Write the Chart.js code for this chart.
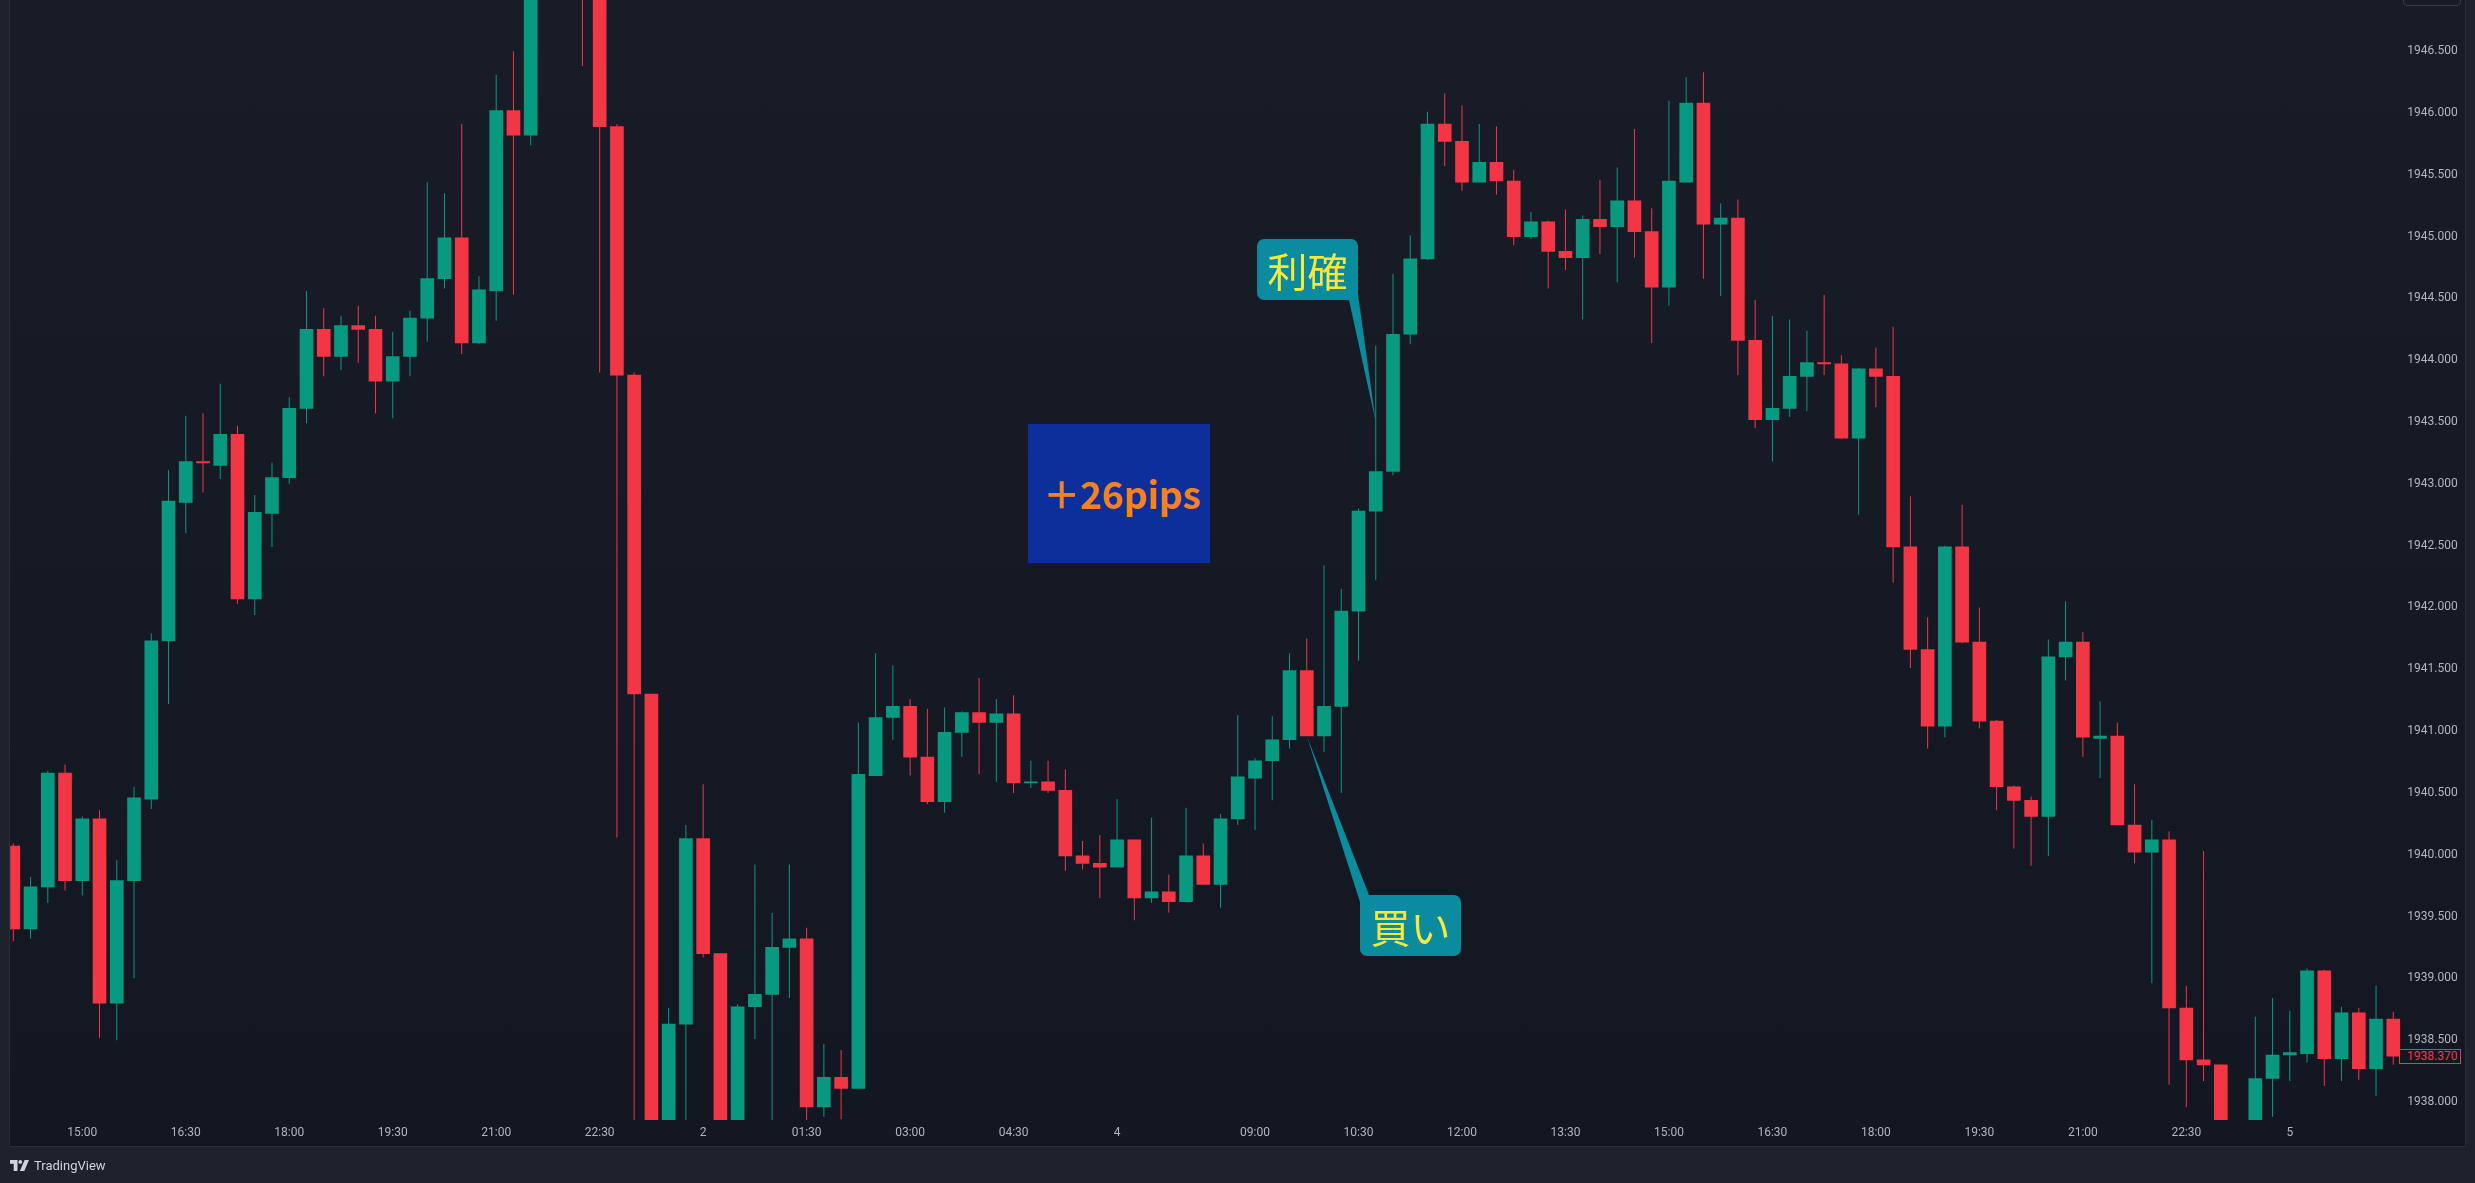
<!DOCTYPE html>
<html>
<head>
<meta charset="utf-8">
<script src="https://cdn.jsdelivr.net/npm/chart.js@4.4.1/dist/chart.umd.min.js"></script>
<style>
html,body{margin:0;padding:0;width:2475px;height:1183px;overflow:hidden;background:#1e222d;}
#panel{position:absolute;left:9px;top:-1px;width:2457px;height:1148px;box-sizing:border-box;border:1px solid #2a2e39;background:linear-gradient(180deg,#181c27 0%,#131722 100%);}
#c{position:absolute;left:0;top:0;}
.callout{position:absolute;background:#0a8b9e;border-radius:7px;color:#f7e83a;font-family:"Noto Sans CJK JP";font-size:40px;display:flex;align-items:center;justify-content:center;line-height:1;}
#pips{position:absolute;left:1028px;top:424px;width:182px;height:139px;background:#0d2f9b;color:#f5821f;font-family:"Noto Sans CJK JP";font-weight:bold;font-size:37px;display:flex;align-items:center;padding-left:15px;box-sizing:border-box;line-height:1;white-space:nowrap;}
#lastPrice{position:absolute;left:2399px;width:62px;height:15px;box-sizing:border-box;border:1px solid #f23645;background:#131722;color:#f23645;font:12px Roboto;line-height:13px;padding-left:7px;}
#topbtn{position:absolute;left:2403px;top:-20px;width:58px;height:26px;box-sizing:border-box;border:1px solid #363a45;border-radius:4px;}
#footer{position:absolute;left:10px;top:1157px;height:16px;display:flex;align-items:center;gap:4px;color:#d1d4dc;font:13px Roboto;}
</style>
</head>
<body>
<div id="panel"></div>
<canvas id="c" width="2475" height="1183"></canvas>
<div id="pips"></div>
<div id="tpBox" class="callout" style="left:1257px;top:239px;width:101px;height:61px;"></div>
<div id="buyBox" class="callout" style="left:1360px;top:895px;width:101px;height:61px;"></div>
<div id="lastPrice"></div>
<div id="topbtn"></div>
<div id="footer"><svg width="20" height="11" viewBox="0 0 20 11"><path d="M0 0h7.5v11h-3.8V3.7H0z" fill="#d1d4dc"/><circle cx="10.3" cy="1.9" r="1.9" fill="#d1d4dc"/><path d="M14.6 0H19L14.3 11H9.9z" fill="#d1d4dc"/></svg><span>TradingView</span></div>
<script>
// ---------- DATA ----------
// trading sessions (15-minute candles): date, first bar time, number of bars
const sessions = [["09/01","14:00",40],["09/02","00:00",24],["09/04","07:00",68],["09/05","00:00",7]];

const opens = [
1940.07,1939.40,1939.74,1940.66,1939.79,1940.29,1938.80,1939.79,1940.45,1941.73,
1942.85,1943.18,1943.15,1943.40,1942.07,1942.76,1943.05,1943.61,1944.25,1944.03,
1944.28,1944.25,1943.83,1944.03,1944.34,1944.66,1944.99,1944.14,1944.56,1946.02,
1945.82,1948.60,1951.50,1948.50,1947.20,1945.89,1943.88,1941.30,1937.50,1938.63,
1940.13,1939.20,1937.75,1938.77,1938.87,1939.25,1939.32,1937.96,1938.20,1938.11,
1940.64,1941.11,1941.20,1940.79,1940.43,1940.99,1941.15,1941.07,1941.14,1940.58,
1940.59,1940.52,1939.99,1939.93,1939.90,1940.12,1939.65,1939.70,1939.62,1939.99,
1939.76,1940.29,1940.62,1940.76,1940.93,1941.49,1940.96,1941.20,1941.97,1942.78,
1943.10,1944.21,1944.82,1945.91,1945.77,1945.44,1945.60,1945.45,1945.00,1945.12,
1944.88,1944.83,1945.14,1945.08,1945.29,1945.04,1944.59,1945.44,1946.08,1945.10,
1945.15,1944.16,1943.52,1943.61,1943.87,1943.98,1943.97,1943.37,1943.93,1943.87,
1942.49,1941.66,1941.04,1942.49,1941.72,1941.08,1940.55,1940.44,1940.31,1941.60,
1941.72,1940.94,1940.96,1940.24,1940.02,1940.12,1938.76,1938.34,1938.30,1937.75,
1937.55,1938.19,1938.38,1938.39,1939.06,1938.35,1938.72,1938.27,1938.67
];
const highs = [
1940.09,1939.82,1940.68,1940.73,1940.31,1940.36,1939.96,1940.55,1941.79,1943.11,
1943.55,1943.57,1943.81,1943.47,1942.91,1943.17,1943.70,1944.56,1944.42,1944.36,
1944.44,1944.36,1944.23,1944.40,1945.44,1945.35,1945.91,1944.68,1946.31,1946.50,
1949.20,1953.00,1952.40,1949.00,1947.40,1945.91,1943.90,1941.30,1938.76,1940.24,
1940.57,1939.20,1938.79,1939.92,1939.53,1939.92,1939.41,1938.47,1938.42,1941.07,
1941.63,1941.53,1941.26,1941.18,1941.19,1941.16,1941.43,1941.26,1941.29,1940.76,
1940.76,1940.69,1940.11,1940.16,1940.45,1940.12,1940.30,1939.84,1940.38,1940.09,
1940.33,1941.13,1940.78,1941.12,1941.63,1941.75,1942.34,1942.15,1942.80,1944.12,
1944.70,1945.01,1946.01,1946.16,1946.06,1945.91,1945.89,1945.54,1945.20,1945.13,
1945.22,1945.17,1945.46,1945.56,1945.87,1945.23,1946.10,1946.29,1946.33,1945.27,
1945.30,1944.49,1944.36,1944.33,1944.24,1944.53,1944.04,1943.94,1944.10,1944.27,
1942.90,1941.92,1942.50,1942.83,1942.00,1941.09,1940.56,1940.47,1941.74,1942.05,
1941.80,1941.24,1941.07,1940.57,1940.28,1940.19,1938.94,1940.03,1938.30,1937.80,
1938.69,1938.84,1938.74,1939.08,1939.07,1938.77,1938.76,1938.94,1938.73
];
const lows = [
1939.30,1939.32,1939.61,1939.71,1939.67,1938.52,1938.50,1939.00,1940.37,1941.22,
1942.60,1942.93,1943.04,1942.03,1941.94,1942.49,1943.00,1943.49,1943.87,1943.92,
1943.98,1943.57,1943.53,1943.87,1944.15,1944.58,1944.05,1944.13,1944.32,1944.53,
1945.74,1947.30,1948.00,1946.38,1943.90,1940.14,1937.60,1937.20,1937.10,1937.80,
1939.17,1937.60,1937.60,1938.51,1937.85,1938.84,1937.82,1937.88,1937.86,1938.11,
1940.64,1940.93,1940.64,1940.41,1940.34,1940.79,1940.65,1940.59,1940.50,1940.54,
1940.50,1939.87,1939.88,1939.65,1939.90,1939.47,1939.61,1939.53,1939.62,1939.76,
1939.57,1940.24,1940.20,1940.44,1940.86,1940.96,1940.83,1940.50,1941.57,1942.22,
1943.07,1944.13,1944.81,1945.57,1945.37,1945.44,1945.34,1944.93,1944.98,1944.58,
1944.73,1944.33,1944.86,1944.63,1944.83,1944.14,1944.44,1945.44,1944.66,1944.52,
1943.88,1943.45,1943.18,1943.54,1943.59,1943.88,1943.36,1942.75,1943.62,1942.20,
1941.51,1940.86,1940.95,1941.71,1941.02,1940.36,1940.05,1939.91,1939.99,1941.41,
1940.79,1940.62,1940.24,1939.93,1938.96,1938.14,1937.96,1938.17,1937.60,1937.30,
1937.40,1937.88,1938.17,1938.32,1938.13,1938.17,1938.18,1938.05,1938.30
];
const closes = [
1939.40,1939.74,1940.66,1939.79,1940.29,1938.80,1939.79,1940.46,1941.73,1942.86,
1943.18,1943.17,1943.40,1942.07,1942.77,1943.05,1943.61,1944.25,1944.03,1944.28,
1944.25,1943.83,1944.03,1944.34,1944.66,1944.99,1944.14,1944.57,1946.02,1945.82,
1948.60,1951.50,1948.50,1947.20,1945.89,1943.88,1941.30,1937.40,1938.63,1940.13,
1939.20,1937.70,1938.77,1938.87,1939.25,1939.32,1937.96,1938.20,1938.11,1940.65,
1941.11,1941.20,1940.79,1940.43,1940.99,1941.15,1941.07,1941.14,1940.58,1940.59,
1940.52,1939.99,1939.93,1939.90,1940.12,1939.65,1939.70,1939.62,1939.99,1939.76,
1940.29,1940.63,1940.76,1940.93,1941.49,1940.96,1941.20,1941.97,1942.78,1943.10,
1944.21,1944.82,1945.91,1945.77,1945.44,1945.60,1945.45,1945.00,1945.12,1944.88,
1944.83,1945.14,1945.08,1945.29,1945.04,1944.59,1945.45,1946.08,1945.10,1945.15,
1944.16,1943.52,1943.61,1943.87,1943.98,1943.97,1943.37,1943.93,1943.87,1942.49,
1941.66,1941.04,1942.49,1941.72,1941.08,1940.55,1940.44,1940.31,1941.60,1941.72,
1940.95,1940.96,1940.24,1940.02,1940.12,1938.76,1938.34,1938.30,1937.75,1937.50,
1938.19,1938.38,1938.40,1939.06,1938.35,1938.72,1938.27,1938.67,1938.37
];

const tickAt = ["09/01 15:00","09/01 16:30","09/01 18:00","09/01 19:30","09/01 21:00","09/01 22:30",
  "09/02 00:00","09/02 01:30","09/02 03:00","09/02 04:30","09/04 07:00","09/04 09:00","09/04 10:30",
  "09/04 12:00","09/04 13:30","09/04 15:00","09/04 16:30","09/04 18:00","09/04 19:30","09/04 21:00",
  "09/04 22:30","09/05 00:00"];
const tickText = ["15:00","16:30","18:00","19:30","21:00","22:30","2","01:30","03:00","04:30","4",
  "09:00","10:30","12:00","13:30","15:00","16:30","18:00","19:30","21:00","22:30","5"];
const priceTicks = [1938.0,1938.5,1939.0,1939.5,1940.0,1940.5,1941.0,1941.5,1942.0,1942.5,
  1943.0,1943.5,1944.0,1944.5,1945.0,1945.5,1946.0,1946.5];

// trade annotations
const tradeText = ["買い","利確"];
const tradeBar = ["09/04 09:45","09/04 10:45"];
const tradePrice = [1940.96, 1943.50];
const resultText = "＋26pips";

// ---------- BUILD ----------
const categories = [];
sessions.forEach(([d, t, n]) => {
  let [h, m] = t.split(":").map(Number);
  for (let k = 0; k < n; k++) {
    categories.push(d + " " + String(h).padStart(2,"0") + ":" + String(m).padStart(2,"0"));
    m += 15; if (m === 60) { m = 0; h += 1; }
  }
});

const UP = "#089981", DOWN = "#f23645";
const colors = closes.map((c, i) => c >= opens[i] ? UP : DOWN);
const yMin = 1937.854, yMax = 1946.914;
const axisColor = "#b2b5be";
const calloutColor = "#0a8b9e";
const clipArea = {left: -5.5, top: 0, right: 0, bottom: 0};

document.getElementById("pips").textContent = resultText;
document.getElementById("buyBox").textContent = tradeText[0];
document.getElementById("tpBox").textContent = tradeText[1];

// tail base points (inside the callout boxes), in page pixels
const tailBases = [[[1362.6, 910], [1372.9, 905]], [[1346.8, 290], [1356, 280]]];

const overlayPlugin = {
  id: "overlay",
  afterDatasetsDraw(chart) {
    const {ctx, scales: {x, y}} = chart;
    ctx.save();
    ctx.fillStyle = calloutColor;
    tradeBar.forEach((cat, k) => {
      const px = x.getPixelForValue(categories.indexOf(cat));
      const py = y.getPixelForValue(tradePrice[k]);
      const [a, b] = tailBases[k];
      ctx.beginPath();
      ctx.moveTo(px, py);
      ctx.lineTo(a[0], a[1]);
      ctx.lineTo(b[0], b[1]);
      ctx.closePath();
      ctx.fill();
    });
    ctx.restore();
  },
  afterDraw(chart) {
    const last = closes[closes.length - 1];
    const el = document.getElementById("lastPrice");
    el.textContent = last.toFixed(3);
    el.style.top = (chart.scales.y.getPixelForValue(last) - 7) + "px";
  }
};

Chart.defaults.font.family = "Roboto";

new Chart(document.getElementById("c"), {
  type: "bar",
  data: {
    labels: categories,
    datasets: [
      {
        label: "wick",
        data: lows.map((l, i) => [l, highs[i]]),
        backgroundColor: colors,
        barThickness: 1,
        inflateAmount: 0,
        grouped: false,
        order: 2,
        clip: clipArea
      },
      {
        label: "body",
        data: opens.map((o, i) => [o, closes[i]]),
        backgroundColor: colors,
        barThickness: 13,
        minBarLength: 1,
        grouped: false,
        order: 1,
        clip: clipArea
      }
    ]
  },
  options: {
    responsive: false,
    animation: false,
    events: [],
    layout: {padding: {left: 4.68, right: 10, top: 0, bottom: 36}},
    plugins: {legend: {display: false}, tooltip: {enabled: false}},
    scales: {
      x: {
        offset: true,
        grid: {display: false, drawTicks: false},
        border: {display: false},
        ticks: {
          autoSkip: false, maxRotation: 0, minRotation: 0, padding: 6,
          color: axisColor, font: {size: 12},
          callback(value) {
            const k = tickAt.indexOf(categories[value]);
            return k >= 0 ? tickText[k] : null;
          }
        },
        afterFit(s) { s.height = 27; s.paddingLeft = 0; s.paddingRight = 0; }
      },
      y: {
        position: "right",
        min: yMin, max: yMax,
        grid: {display: false, drawTicks: false},
        border: {display: false},
        ticks: {padding: 5.4, color: axisColor, font: {size: 12}, callback: v => Number(v).toFixed(3)},
        afterBuildTicks(s) { s.ticks = priceTicks.map(v => ({value: v})); },
        afterFit(s) { s.width = 63.1; s.paddingTop = 0; s.paddingBottom = 0; }
      }
    }
  },
  plugins: [overlayPlugin]
});
</script>
</body>
</html>
